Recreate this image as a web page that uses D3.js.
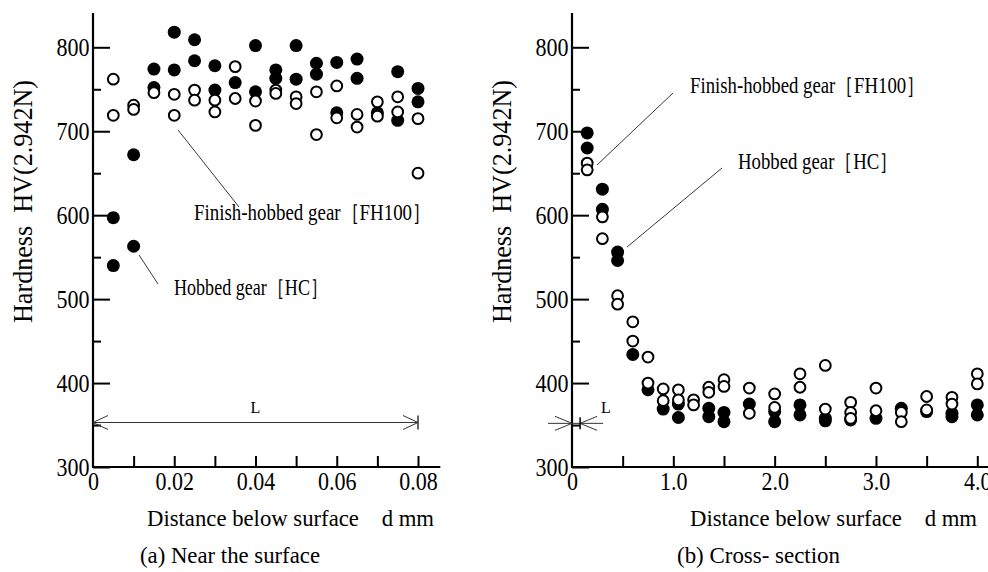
<!DOCTYPE html>
<html>
<head>
<meta charset="utf-8">
<script src="https://cdn.jsdelivr.net/npm/d3@7"></script>
<style>
  body { margin: 0; background: #fff; }
  svg text { fill: #000; white-space: pre; }
</style>
</head>
<body>
<script>
// (a) near the surface: [d mm, HV]
const nearHC = [
  [0.005, 597], [0.005, 540], [0.01, 672], [0.01, 563], [0.015, 774], [0.015, 752],
  [0.02, 818], [0.02, 773], [0.025, 809], [0.025, 784], [0.03, 778], [0.03, 749],
  [0.035, 758], [0.04, 802], [0.04, 747], [0.045, 773], [0.045, 763], [0.05, 802],
  [0.05, 762], [0.055, 781], [0.055, 768], [0.06, 782], [0.06, 722], [0.065, 786],
  [0.065, 763], [0.07, 722], [0.075, 771], [0.075, 713], [0.08, 751], [0.08, 735]
];
const nearFH = [
  [0.005, 762], [0.005, 719], [0.01, 731], [0.01, 726], [0.015, 746], [0.02, 744],
  [0.02, 719], [0.025, 749], [0.025, 737], [0.03, 737], [0.03, 723], [0.035, 777],
  [0.035, 739], [0.04, 736], [0.04, 707], [0.045, 749], [0.045, 745], [0.05, 741],
  [0.05, 733], [0.055, 747], [0.055, 696], [0.06, 754], [0.06, 716], [0.065, 720],
  [0.065, 705], [0.07, 735], [0.07, 718], [0.075, 741], [0.075, 723], [0.08, 715],
  [0.08, 650]
];
// (b) cross-section
const crossHC = [
  [0.15, 698], [0.15, 680], [0.3, 631], [0.3, 607], [0.45, 556], [0.45, 546],
  [0.6, 434], [0.75, 392], [0.9, 369], [1.05, 375], [1.05, 359], [1.35, 370],
  [1.35, 360], [1.5, 365], [1.5, 354], [1.75, 375], [2.0, 366], [2.0, 354],
  [2.25, 374], [2.25, 362], [2.5, 358], [2.5, 355], [2.75, 356], [3.0, 358],
  [3.25, 370], [3.5, 366], [3.75, 364], [3.75, 360], [4.0, 374], [4.0, 362]
];
const crossFH = [
  [0.15, 662], [0.15, 654], [0.3, 598], [0.3, 572], [0.45, 504], [0.45, 494],
  [0.6, 473], [0.6, 450], [0.75, 431], [0.75, 400], [0.9, 393], [0.9, 379],
  [1.05, 392], [1.05, 380], [1.2, 380], [1.2, 374], [1.35, 395], [1.35, 389],
  [1.5, 404], [1.5, 396], [1.75, 394], [1.75, 364], [2.0, 387], [2.0, 371],
  [2.25, 411], [2.25, 395], [2.5, 421], [2.5, 369], [2.75, 377], [2.75, 365],
  [2.75, 358], [3.0, 394], [3.0, 367], [3.25, 365], [3.25, 354], [3.5, 384],
  [3.5, 368], [3.75, 383], [3.75, 375], [4.0, 411], [4.0, 399]
];
const yTicks = [300, 400, 500, 600, 700, 800];
const nearTicks = [0, 0.02, 0.04, 0.06, 0.08];
const crossTicks = [0, 1, 2, 3, 4];

const svg = d3.select('body').append('svg')
  .attr('width', 988).attr('height', 572);

const y = d3.scaleLinear().domain([300, 800]).range([467, 47.3]);

function panel(o) {
  const g = svg.append('g');
  const x = o.x;

  // minor ticks
  g.append('g').attr('transform', `translate(${x(0)},0)`)
    .call(d3.axisLeft(y).tickValues([350, 450, 550, 650, 750]).tickSize(-8).tickFormat(''))
    .call(a => a.select('.domain').remove());
  g.append('g').attr('transform', `translate(0,${y(300)})`)
    .call(d3.axisBottom(x).tickValues(o.minor).tickSize(-11).tickFormat(''))
    .call(a => a.select('.domain').remove());

  // major y ticks + labels
  g.append('g').attr('transform', `translate(${x(0)},0)`)
    .call(d3.axisLeft(y).tickValues(yTicks).tickSize(-17).tickPadding(4).tickFormat(d3.format('d')))
    .call(a => a.select('.domain').remove())
    .call(a => a.selectAll('text').attr('font-size', 25).attr('transform', 'scale(0.88,1)'));

  g.append('g').attr('transform', `translate(0,${y(300)})`)
    .call(d3.axisBottom(x).tickValues(o.ticks).tickSize(0).tickPadding(5).tickFormat(o.fmt))
    .call(a => a.select('.domain').remove())
    .call(a => a.selectAll('text').attr('font-size', 25).attr('transform', 'scale(0.88,1)'));

  g.selectAll('.tick line').attr('stroke', '#000').attr('stroke-width', 2);

  // axis lines
  g.append('line').attr('x1', x(0)).attr('x2', x(0)).attr('y1', y(841)).attr('y2', y(300))
    .attr('stroke', '#000').attr('stroke-width', 2.2);
  g.append('line').attr('x1', x(0) - 1).attr('x2', x(o.xEnd)).attr('y1', y(300)).attr('y2', y(300))
    .attr('stroke', '#000').attr('stroke-width', 2.2);

  // points
  g.selectAll('.hc').data(o.hc).enter().append('circle')
    .attr('cx', d => x(d[0])).attr('cy', d => y(d[1])).attr('r', 6.5).attr('fill', '#000');
  g.selectAll('.fh').data(o.fh).enter().append('circle')
    .attr('cx', d => x(d[0])).attr('cy', d => y(d[1])).attr('r', 5.4)
    .attr('fill', '#fff').attr('stroke', '#000').attr('stroke-width', 2);

  // y label
  g.append('text')
    .attr('transform', `translate(${x(0) - 61},323) rotate(-90)`)
    .attr('font-size', 27).attr('textLength', 243).attr('lengthAdjust', 'spacingAndGlyphs')
    .text('Hardness  HV(2.942N)');

  // x label and caption
  g.append('text').attr('x', o.titleX).attr('y', 526).attr('font-size', 24)
    .attr('textLength', 287).attr('lengthAdjust', 'spacingAndGlyphs')
    .text('Distance below surface    d mm');
  g.append('text').attr('x', o.capX).attr('y', 563).attr('font-size', 23)
    .attr('textLength', o.capLen).attr('lengthAdjust', 'spacingAndGlyphs')
    .text(o.caption);

  // annotations
  o.notes.forEach(n => {
    g.append('line').attr('x1', n.l[0]).attr('y1', n.l[1]).attr('x2', n.l[2]).attr('y2', n.l[3])
      .attr('stroke', '#222').attr('stroke-width', 0.9);
    g.append('text').attr('x', n.x).attr('y', n.y).attr('font-size', 23)
      .attr('textLength', n.len).attr('lengthAdjust', 'spacingAndGlyphs').text(n.t);
  });
  return g;
}

const xNear = d3.scaleLinear().domain([0, 0.08]).range([93, 418]);
const xCross = d3.scaleLinear().domain([0, 4]).range([572, 977.3]);

const gA = panel({
  x: xNear, ticks: nearTicks, minor: d3.range(1, 9).map(i => i / 100), xEnd: 0.0855,
  fmt: d => d === 0 ? '0' : d3.format('.2f')(d),
  hc: nearHC, fh: nearFH, titleX: 147, capX: 140, capLen: 180,
  caption: '(a) Near the surface',
  notes: [
    { l: [178, 130, 239, 207], x: 194, y: 220, len: 237, t: 'Finish-hobbed gear［FH100］' },
    { l: [139, 255, 158, 284], x: 174, y: 295, len: 154, t: 'Hobbed gear［HC］' }
  ]
});

const gB = panel({
  x: xCross, ticks: crossTicks, minor: d3.range(1, 9).map(i => i / 2), xEnd: 4.2,
  fmt: d => d === 0 ? '0' : d3.format('.1f')(d),
  hc: crossHC, fh: crossFH, titleX: 690, capX: 677, capLen: 163,
  caption: '(b) Cross- section',
  notes: [
    { l: [597, 165, 673, 93], x: 690, y: 93, len: 235, t: 'Finish-hobbed gear［FH100］' },
    { l: [627, 247, 722, 168], x: 738, y: 169, len: 160, t: 'Hobbed gear［HC］' }
  ]
});

// L markers (length of region shown in (a))
const ly = y(353);
const mk = (g, pts) => g.append('path').attr('d', d3.line()(pts))
  .attr('fill', 'none').attr('stroke', '#333').attr('stroke-width', 1);
mk(gA, [[xNear(0), ly], [xNear(0.08), ly]]);
mk(gA, [[xNear(0) + 15, ly - 7], [xNear(0), ly], [xNear(0) + 15, ly + 7]]);
mk(gA, [[xNear(0.08) - 15, ly - 7], [xNear(0.08), ly], [xNear(0.08) - 15, ly + 7]]);
mk(gA, [[xNear(0.08), ly - 7], [xNear(0.08), ly + 7]]).attr('stroke-width', 1.5);
gA.append('text').attr('x', xNear(0.04)).attr('y', ly - 10).attr('font-size', 16)
  .attr('text-anchor', 'middle').text('L');

const ly2 = y(352);
mk(gB, [[xCross(0) - 24, ly2], [xCross(0.08) + 23, ly2]]);
mk(gB, [[xCross(0) - 17, ly2 - 7], [xCross(0), ly2], [xCross(0) - 17, ly2 + 7]]);
mk(gB, [[xCross(0.08) + 17, ly2 - 7], [xCross(0.08), ly2], [xCross(0.08) + 17, ly2 + 7]]);
mk(gB, [[xCross(0.08), ly2 - 6], [xCross(0.08), ly2 + 6]]).attr('stroke-width', 1.5).attr('stroke', '#000');
gB.append('text').attr('x', 601).attr('y', ly2 - 10).attr('font-size', 16).text('L');

// serif face on every label (inline style wins over the axis' sans-serif attribute)
svg.selectAll('text').style('font-family', '"Liberation Serif"');
</script>
</body>
</html>
